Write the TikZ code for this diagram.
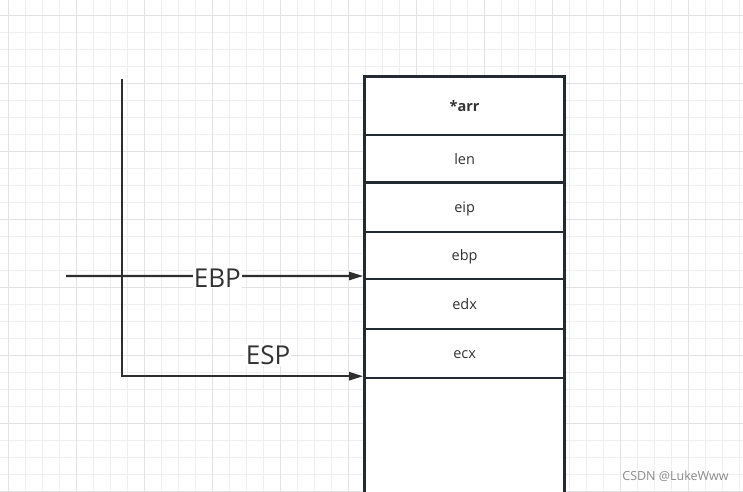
\documentclass[tikz,border=0pt]{standalone}
\usepackage{fontspec}
\setmainfont{Open Sans}
\usetikzlibrary{arrows.meta}
\definecolor{gridminor}{HTML}{EFEFEF}
\definecolor{gridmajor}{HTML}{E2E2E2}
\definecolor{stackline}{HTML}{232A31}
\definecolor{arrowc}{HTML}{2E2E2E}
\definecolor{txt}{HTML}{333333}
\definecolor{wm}{HTML}{8C8C8C}
\begin{document}
\begin{tikzpicture}[x=1pt,y=-1pt,
  minorline/.style={draw=gridminor, line width=1pt},
  majorline/.style={draw=gridmajor, line width=1pt},
  cell/.style={draw=stackline, line width=2.4pt, fill=white, minimum width=199.8pt,
    inner sep=0pt, outer sep=0pt, text=txt, text height=11pt, text depth=0pt,
    font=\fontsize{14.5}{17}\selectfont, anchor=north west},
  outer/.style={draw=stackline, line width=3pt},
  ptr/.style={draw=arrowc, line width=2.1pt, -{Triangle[length=14pt,width=8pt]}},
  ptrlabel/.style={fill=white, text=txt, inner sep=1pt, font=\fontsize{26}{30}\selectfont},
  wmark/.style={text=wm, inner sep=0pt, font=\fontsize{12.5}{14}\selectfont}]
\useasboundingbox (0,0) rectangle (743,491);
\clip (0,0) rectangle (743,491);
\fill[white] (0,0) rectangle (743,491);
% grid
\foreach \i in {0,...,43} {\draw[minorline] (8.3+17*\i,0) -- (8.3+17*\i,491);}
\foreach \i in {0,...,28} {\draw[minorline] (0,15.3+17*\i) -- (743,15.3+17*\i);}
\foreach \i in {0,...,10} {\draw[majorline] (8.3+68*\i,0) -- (8.3+68*\i,491);}
\foreach \i in {0,...,7} {\draw[majorline] (0,15.3+68*\i) -- (743,15.3+68*\i);}
% stack cells
\node[cell, minimum height=58pt] (arr) at (364.7,76.7) {\bfseries *arr};
\node[cell, minimum height=47.6pt] (len) at (364.7,134.7) {len};
\node[cell, minimum height=49.4pt] (eip) at (364.7,182.3) {eip};
\node[cell, minimum height=47.3pt] (ebp) at (364.7,231.7) {ebp};
\node[cell, minimum height=49.7pt] (edx) at (364.7,279) {edx};
\node[cell, minimum height=49pt] (ecx) at (364.7,328.7) {ecx};
\node[cell, minimum height=130pt] (free) at (364.7,377.7) {};
\draw[outer] (arr.north west) rectangle (free.south east);
% pointers
\coordinate (ebpstart) at (66,276);
\coordinate (espstart) at (121.7,79);
\coordinate (espcorner) at (121.7,376.2);
\draw[ptr] (ebpstart) -- ([xshift=-1.5pt,yshift=3pt]ebp.south west);
\draw[ptr] (espstart) -- (espcorner) -- ([xshift=-1.5pt,yshift=1.5pt]ecx.south west);
\node[ptrlabel] (ebplabel) at (217.3,277.8) {EBP};
\node[ptrlabel] (esplabel) at (268,355) {ESP};
% watermark
\node[wmark] (wmk) at (675.5,476.5) {CSDN @LukeWww};
\end{tikzpicture}
\end{document}
